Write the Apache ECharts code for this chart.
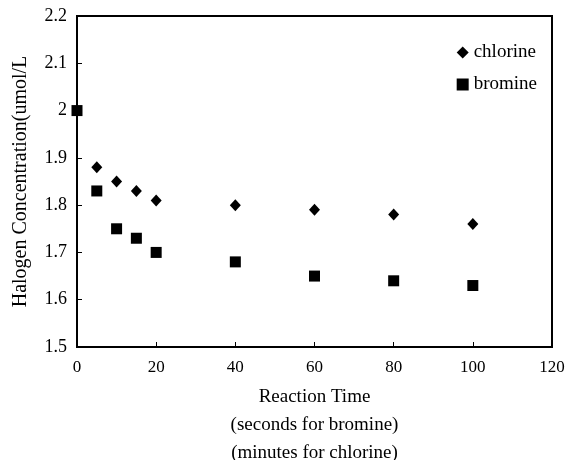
<!DOCTYPE html>
<html>
<head>
<meta charset="utf-8">
<script src="https://cdn.jsdelivr.net/npm/echarts@6/dist/echarts.min.js"></script>
<style>
  html, body { margin: 0; padding: 0; background: #fff; }
  #chart { width: 570px; height: 460px; }
</style>
</head>
<body>
<div id="chart"></div>
<script>
// reaction time (seconds for bromine, minutes for chlorine)
var chlorine_time = [5, 10, 15, 20, 40, 60, 80, 100];
var chlorine_conc = [1.88, 1.85, 1.83, 1.81, 1.80, 1.79, 1.78, 1.76];
var bromine_time = [0, 5, 10, 15, 20, 40, 60, 80, 100];
var bromine_conc = [2.00, 1.83, 1.75, 1.73, 1.70, 1.68, 1.65, 1.64, 1.63];
var x_ticks = [0, 20, 40, 60, 80, 100, 120];
var y_ticks = [1.5, 1.6, 1.7, 1.8, 1.9, 2.0, 2.1, 2.2];

function pairs(xs, ys){
    return xs.map(function(x, i){ return [x, ys[i]] })
}

var font = 'Liberation Serif';
var chart_div = echarts.init(document.getElementById('chart'));

var option = {
    animation: false,
    textStyle: { fontFamily: font, color: '#000' },
    grid: {
        left: 77, right: 18, top: 16, bottom: 113,
        outerBoundsMode: 'none',
        containLabel: false,
        show: true,
        borderColor: '#000',
        borderWidth: 2,
        backgroundColor: 'transparent'
    },
    legend: {
        orient: 'vertical',
        right: 28,
        top: 38,
        itemGap: 13,
        itemWidth: 12,
        itemHeight: 12,
        textStyle: { fontFamily: font, fontSize: 19, color: '#000' },
        data: [
            { name: 'chlorine', icon: 'diamond' },
            { name: 'bromine', icon: 'rect' }
        ]
    },
    xAxis: {
        type: 'value',
        min: x_ticks[0],
        max: x_ticks[x_ticks.length - 1],
        interval: 20,
        name: 'Reaction Time\n(seconds for bromine)\n(minutes for chlorine)',
        nameLocation: 'middle',
        nameGap: 36,
        nameTextStyle: { fontFamily: font, fontSize: 19, lineHeight: 28, color: '#000' },
        axisLine: { lineStyle: { color: '#000', width: 2 } },
        axisTick: { inside: true, length: 5, lineStyle: { color: '#000', width: 1 } },
        axisLabel: { fontFamily: font, fontSize: 17, color: '#000', margin: 12 },
        splitLine: { show: false }
    },
    yAxis: {
        type: 'value',
        min: y_ticks[0],
        max: y_ticks[y_ticks.length - 1],
        interval: 0.1,
        name: 'Halogen Concentration(umol/L',
        nameLocation: 'middle',
        nameGap: 46,
        nameTextStyle: { fontFamily: font, fontSize: 20, color: '#000' },
        axisLine: { lineStyle: { color: '#000', width: 2 } },
        axisTick: { inside: true, length: 5, lineStyle: { color: '#000', width: 1 } },
        axisLabel: {
            fontFamily: font, fontSize: 18, color: '#000', margin: 10,
            formatter: function(v){ return String(Math.round(v * 10) / 10) }
        },
        splitLine: { show: false }
    },
    series: [
        {
            name: 'chlorine',
            type: 'scatter',
            symbol: 'diamond',
            symbolSize: [11, 12],
            itemStyle: { color: '#000', opacity: 1 },
            data: pairs(chlorine_time, chlorine_conc)
        },
        {
            name: 'bromine',
            type: 'scatter',
            symbol: 'rect',
            symbolSize: 11,
            itemStyle: { color: '#000', opacity: 1 },
            data: pairs(bromine_time, bromine_conc)
        }
    ]
};
chart_div.setOption(option);
</script>
</body>
</html>
